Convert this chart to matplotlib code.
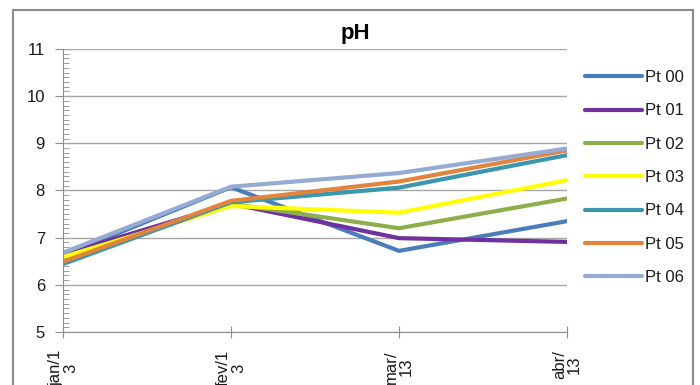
import matplotlib.pyplot as plt
from matplotlib.patches import Rectangle
from matplotlib.ticker import MultipleLocator

plt.rcParams['font.family'] = ['Liberation Sans', 'DejaVu Sans']

meses = ['jan/1\n3', 'fev/1\n3', 'mar/\n13', 'abr/\n13']
pontos = ['Pt 00', 'Pt 01', 'Pt 02', 'Pt 03', 'Pt 04', 'Pt 05', 'Pt 06']

pt00 = [6.62, 8.07, 6.72, 7.35]
pt01 = [6.65, 7.72, 6.99, 6.91]
pt02 = [6.55, 7.72, 7.20, 7.83]
pt03 = [6.59, 7.67, 7.53, 8.22]
pt04 = [6.44, 7.75, 8.06, 8.75]
pt05 = [6.49, 7.78, 8.19, 8.85]
pt06 = [6.68, 8.08, 8.37, 8.89]

series = [pt00, pt01, pt02, pt03, pt04, pt05, pt06]
cores = ['#4a7ebb', '#7030a0', '#8dae4b', '#ffff00', '#3b96b0', '#e3843c', '#95abd4']

fig = plt.figure(figsize=(7, 3.85), dpi=100)
ax = fig.add_axes([63 / 700, 1 - 332 / 385, (567 - 63) / 700, (332 - 49) / 385])

x = range(len(meses))
for nome, vals, cor in zip(pontos, series, cores):
    ax.plot(x, vals, color=cor, lw=3, label=nome,
            solid_capstyle='round', solid_joinstyle='round')

ax.set_xlim(0, len(meses) - 1)
ax.set_ylim(5, 11)
ax.set_xticks(list(x))
ax.set_xticklabels(meses, rotation=90, ha='center', va='top',
                   fontsize=12, color='#1a1a1a', linespacing=1.0)
ax.yaxis.set_major_locator(MultipleLocator(1))
ax.yaxis.set_minor_locator(MultipleLocator(0.1))
ax.tick_params(axis='y', which='major', direction='out', length=6,
               color='#8c8c8c', labelsize=12, labelcolor='#1a1a1a', pad=7)
ax.tick_params(axis='y', which='minor', direction='in', length=4, color='#8c8c8c')
ax.tick_params(axis='x', direction='inout', length=8, color='#8c8c8c', pad=9)

ax.grid(axis='y', which='major', color='#a6a6a6', lw=1)
ax.set_axisbelow(True)
for lado in ['top', 'right']:
    ax.spines[lado].set_visible(False)
for lado in ['left', 'bottom']:
    ax.spines[lado].set_color('#8c8c8c')

fig.text(355 / 700, 1 - 33 / 385, 'pH', fontsize=16, fontweight='bold',
         ha='center', va='center')

fig.legend(loc='upper left', bbox_to_anchor=(585 / 700, 1 - 70 / 385),
           frameon=False, fontsize=12, handlelength=3.4, handletextpad=0.2,
           labelspacing=1.1, borderpad=0, borderaxespad=0, labelcolor='#1a1a1a')

# moldura do gráfico
fig.patches.append(Rectangle((13 / 700, -0.05), (693 - 13) / 700, 1.05 - 10 / 385,
                             transform=fig.transFigure, fill=False,
                             edgecolor='#8c8c8c', lw=1.5))

plt.savefig('out.png', dpi=100)
